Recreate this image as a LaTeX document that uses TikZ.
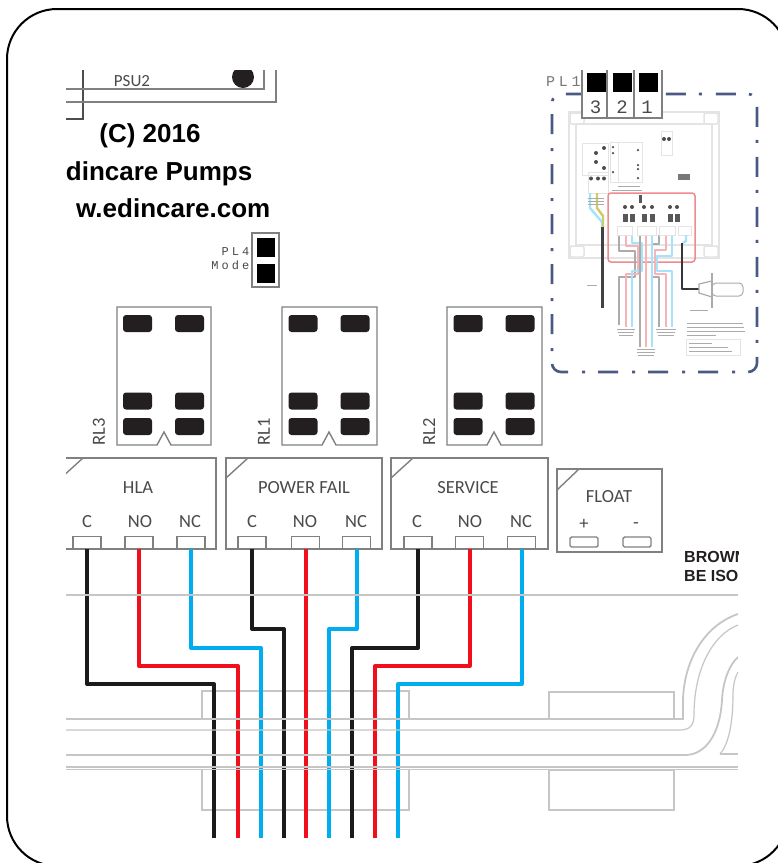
\documentclass[tikz,border=0pt]{standalone}
\usepackage{fontspec}
\setmainfont{Liberation Sans}
\newfontfamily\labelfont{Carlito}
\newfontfamily\plfont[LetterSpace=25]{Liberation Mono}
\newfontfamily\digitfont{Liberation Mono}
\definecolor{padblack}{HTML}{231F20}
\definecolor{wireblack}{HTML}{1C1A1B}
\definecolor{wirered}{HTML}{F0101C}
\definecolor{wireblue}{HTML}{00AEEF}
\definecolor{boxgray}{HTML}{808080}
\definecolor{railgray}{HTML}{C6C6C6}
\definecolor{textgray}{HTML}{4A4A4A}
\definecolor{dashblue}{HTML}{4A5A85}
\definecolor{palegray}{HTML}{E4E4E4}
\definecolor{minired}{HTML}{F08A8E}
\definecolor{minipink}{HTML}{F7B4B8}
\definecolor{miniblue}{HTML}{A6E2FA}
\definecolor{minigray}{HTML}{ABABAB}
\tikzset{
  pad/.style={rectangle, rounded corners=3, fill=padblack, inner sep=0, minimum width=29, minimum height=17},
  term/.style={rectangle, draw=boxgray, line width=1.4, fill=white, inner sep=0, minimum width=28, minimum height=12},
  box/.style={draw=boxgray, line width=1.4},
  rail/.style={draw=railgray, line width=1.8},
  thinrail/.style={draw=railgray, line width=1.2},
  wire/.style={line width=4, line join=round},
  lbl/.style={inner sep=0, text=textgray, font=\labelfont\fontsize{18.5}{18.5}\selectfont},
  boldtxt/.style={inner sep=0, text=black, font=\bfseries\fontsize{26}{26}\selectfont},
  warn/.style={inner sep=0, text=padblack, anchor=west, font=\bfseries\fontsize{16}{16}\selectfont},
  mini/.style={line width=2.4, line join=round},
  smudge/.style={draw=minigray, line width=0.9},
  minidot/.style={circle, fill=padblack!80, inner sep=0, minimum size=4},
  miniblock/.style={rectangle, fill=padblack!75, inner sep=0, minimum width=5, minimum height=8}
}
\begin{document}
\begin{tikzpicture}[x=1pt,y=-1pt]
\path[use as bounding box, clip] (0,0) rectangle (778,863);
\fill[white] (0,0) rectangle (778,863);
\begin{scope}
\clip (66,70) rectangle (738,838);
% top of the board
\draw[box, padblack!80] (83,70) -- (83,119) -- (66,119);
\draw[box] (66,89) -- (264,89) -- (264,70);
\draw[box] (66,102) -- (276,102) -- (276,70);
\node[lbl, font=\labelfont\fontsize{17}{17}\selectfont] (psu2) at (132,81){PSU2};
\node[circle, fill=padblack, inner sep=0, minimum size=22] (psuhole) at (243,77){};
\node[boldtxt] (copy) at (150,136){(C) 2016};
\node[boldtxt, anchor=east] (maker) at (252.5,174){dincare Pumps};
\node[boldtxt, anchor=east] (site) at (270.5,208){w.edincare.com};
% mode link
\node[rectangle, draw=boxgray, line width=1.4, inner sep=0, minimum width=27, minimum height=54] (pl4) at (265.5,260){};
\node[rectangle, fill=black, inner sep=0, minimum width=18, minimum height=19] (pl4a) at (266,247.5){};
\node[rectangle, fill=black, inner sep=0, minimum width=18, minimum height=19] (pl4b) at (266,273.5){};
\node[inner sep=0, text=textgray, anchor=east, font=\plfont\fontsize{12}{12}\selectfont] (pl4t) at (249.5,252){PL4};
\node[inner sep=0, text=textgray, anchor=east, font=\plfont\fontsize{12}{12}\selectfont] (pl4m) at (249.5,265){Mode};
% relays
\draw[box] (117,307) -- (211,307) -- (211,445) -- (171,445) -- (164,432) -- (157,445) -- (117,445) -- cycle;
\node[pad] (pid0) at (137.5,323.5){};
\node[pad] (pid1) at (189.5,323.5){};
\node[pad] (pid2) at (137.5,401){};
\node[pad] (pid3) at (189.5,401){};
\node[pad] (pid4) at (137.5,426.5){};
\node[pad] (pid5) at (189.5,426.5){};
\node[lbl, rotate=90, anchor=west] (rl3) at (99,445.5){RL3};
\draw[box] (282,307) -- (377,307) -- (377,445) -- (336,445) -- (329,432) -- (322,445) -- (282,445) -- cycle;
\node[pad] (pid6) at (303,323.5){};
\node[pad] (pid7) at (355,323.5){};
\node[pad] (pid8) at (303,401){};
\node[pad] (pid9) at (355,401){};
\node[pad] (pid10) at (303,426.5){};
\node[pad] (pid11) at (355,426.5){};
\node[lbl, rotate=90, anchor=west] (rl1) at (264,445.5){RL1};
\draw[box] (447,307) -- (542,307) -- (542,445) -- (501,445) -- (494,432) -- (487,445) -- (447,445) -- cycle;
\node[pad] (pid12) at (468,323.5){};
\node[pad] (pid13) at (520,323.5){};
\node[pad] (pid14) at (468,401){};
\node[pad] (pid15) at (520,401){};
\node[pad] (pid16) at (468,426.5){};
\node[pad] (pid17) at (520,426.5){};
\node[lbl, rotate=90, anchor=west] (rl2) at (429,445.5){RL2};
% terminal blocks
\draw[box] (61,458) rectangle (216,549);
\draw[box] (61,478) -- (83,458);
\node[lbl] (hla) at (138,488){HLA};
\node[lbl] (lc1) at (87,522){C};
\node[lbl] (lno1) at (140,522){NO};
\node[lbl] (lnc1) at (190,522){NC};
\draw[box] (226,458) rectangle (382,549);
\draw[box] (226,478) -- (248,458);
\node[lbl] (pwr) at (304,488){POWER FAIL};
\node[lbl] (lc2) at (252,522){C};
\node[lbl] (lno2) at (305,522){NO};
\node[lbl] (lnc2) at (356,522){NC};
\draw[box] (391,458) rectangle (548,549);
\draw[box] (391,478) -- (413,458);
\node[lbl] (svc) at (468,488){SERVICE};
\node[lbl] (lc3) at (417,522){C};
\node[lbl] (lno3) at (470,522){NO};
\node[lbl] (lnc3) at (521,522){NC};
\draw[box] (557,469) rectangle (662,552);
\draw[box] (557,490) -- (579,469);
\node[lbl] (flt) at (609,497){FLOAT};
\node[lbl] (lplus) at (584,524){+};
\node[lbl] (lminus) at (636,526){-};
\node[term] (tid0) at (87,542.5){};
\node[term] (tid1) at (139,542.5){};
\node[term] (tid2) at (191,542.5){};
\node[term] (tid3) at (252,542.5){};
\node[term] (tid4) at (305.5,542.5){};
\node[term] (tid5) at (356.5,542.5){};
\node[term] (tid6) at (418,542.5){};
\node[term] (tid7) at (469.5,542.5){};
\node[term] (tid8) at (521.5,542.5){};
\node[term, rounded corners=1.5, minimum height=10] (tid9) at (584,542){};
\node[term, rounded corners=1.5, minimum height=10] (tid10) at (637,542){};
\node[warn] (warn1) at (684,557){BROWN};
\node[warn] (warn2) at (684,576){BE ISO};
% boxes beside the rails
\draw[thinrail] (202,719) -- (202,691) -- (409,691) -- (409,719);
\draw[thinrail] (202,770) -- (202,810) -- (409,810) -- (409,770);
\draw[thinrail] (549,719) -- (549,692) -- (674,692) -- (674,719);
\draw[thinrail] (549,770) rectangle (674,810);
% wires
\coordinate (jid0) at (214,684);
\coordinate (jid1) at (238,666);
\coordinate (jid2) at (261,648);
\coordinate (jid3) at (284,629);
\coordinate (jid5) at (329,629);
\coordinate (jid6) at (352,648);
\coordinate (jid7) at (375,666);
\coordinate (jid8) at (398,684);
\coordinate (eid0) at (214,838);
\coordinate (eid1) at (238,838);
\coordinate (eid2) at (261,838);
\coordinate (eid3) at (284,838);
\coordinate (eid4) at (305.5,838);
\coordinate (eid5) at (329,838);
\coordinate (eid6) at (352,838);
\coordinate (eid7) at (375,838);
\coordinate (eid8) at (398,838);
\draw[wire, wireblack](tid0.south) |- (jid0) -- (eid0);
\draw[wire, wirered](tid1.south) |- (jid1) -- (eid1);
\draw[wire, wireblue](tid2.south) |- (jid2) -- (eid2);
\draw[wire, wireblack](tid3.south) |- (jid3) -- (eid3);
\draw[wire, wirered](tid4.south) -- (eid4);
\draw[wire, wireblue](tid5.south) |- (jid5) -- (eid5);
\draw[wire, wireblack](tid6.south) |- (jid6) -- (eid6);
\draw[wire, wirered](tid7.south) |- (jid7) -- (eid7);
\draw[wire, wireblue](tid8.south) |- (jid8) -- (eid8);
% rails
\draw[rail] (66,595) -- (738,595);
\draw[rail] (66,719) -- (676,719) -- (683,719) -- (683,700) .. controls (684,660) and (705,625) .. (738,614);
\draw[thinrail] (66,730) -- (680,730) .. controls (690,730) and (694,725) .. (694,715) .. controls (694,670) and (712,635) .. (738,625);
\draw[rail] (66,755) -- (685,755) .. controls (705,755) and (720,735) .. (722,700) .. controls (723,680) and (730,664) .. (738,657);
\draw[thinrail] (720,754) -- (738,754);
\draw[thinrail] (720,754) .. controls (728,745) and (733,725) .. (733,695) .. controls (733,685) and (735,677) .. (738,672);
\draw[rail] (66,767) -- (738,767);
\draw[thinrail] (66,769.5) -- (738,769.5);
\end{scope}
\begin{scope}
\clip (540,70) rectangle (778,400);
% enclosure of the small view
\draw[palegray, line width=1.5] (569,112) rectangle (719,258);
\draw[palegray, line width=1.2] (576,124) rectangle (712,245);
\draw[palegray, line width=1.5, rounded corners=2] (570,113) rectangle (584,124);
\draw[palegray, line width=1.5, rounded corners=2] (704,113) rectangle (718,124);
\draw[palegray, line width=1.5, rounded corners=2] (570,246) rectangle (584,257);
\draw[palegray, line width=1.5, rounded corners=2] (704,246) rectangle (718,257);
\draw[palegray, line width=1] (582,143) rectangle (608,175);
\draw[palegray, line width=1] (610,142) rectangle (642,182);
\draw[palegray, line width=1] (618,142) -- (618,182);
\draw[palegray, line width=1] (588,172) rectangle (608,193);
\draw[palegray, line width=1] (661,131) rectangle (672,155);
\node[minidot] (dot0) at (596,153){};
\node[minidot] (dot1) at (596,162){};
\node[minidot] (dot2) at (604,148){};
\node[minidot] (dot3) at (604,168){};
\node[minidot, minimum size=2.5] (dot4) at (613,147){};
\node[minidot, minimum size=2.5] (dot5) at (613,153){};
\node[minidot, minimum size=2.5] (dot6) at (613,172){};
\node[minidot, minimum size=2.5] (dot7) at (638,150){};
\node[minidot, minimum size=2.5] (dot8) at (638,165){};
\node[minidot, minimum size=2.5] (dot9) at (638,169){};
\node[minidot, minimum size=2.5] (dot10) at (638,178){};
\node[minidot] (dot11) at (591,178.5){};
\node[minidot] (dot12) at (598,178.5){};
\node[minidot] (dot13) at (604,178.5){};
\node[minidot] (dot14) at (664,139){};
\node[minidot] (dot15) at (669,139){};
\node[rectangle, fill=minigray!70!black, inner sep=0, minimum width=12, minimum height=6] (chip) at (684,177){};
% red outline and what it holds
\draw[minired, line width=1.5, rounded corners=3] (608,193) rectangle (695,262);
\node[minidot] (dot16) at (625,207){};
\node[minidot] (dot17) at (632,207){};
\node[minidot] (dot18) at (644,207){};
\node[minidot] (dot19) at (652,207){};
\node[minidot] (dot20) at (670,207){};
\node[minidot] (dot21) at (677,207){};
\node[miniblock] (blk0) at (625,218){};
\node[miniblock] (blk1) at (632,218){};
\node[miniblock] (blk2) at (644,218){};
\node[miniblock] (blk3) at (652,218){};
\node[miniblock] (blk4) at (670,218){};
\node[miniblock] (blk5) at (677,218){};
\node[miniblock, minimum width=3, minimum height=8] (blk6) at (640,199){};
\draw[minigray, mini] (619,235) -- (619,251) -- (635,251) -- (635,277) -- (619,277) -- (619,325);
\draw[minipink, mini] (626,235) -- (626,246) -- (638,246) -- (638,274) -- (626,274) -- (626,327);
\draw[miniblue, mini] (632,235) -- (632,243) -- (642,243) -- (642,271) -- (632,271) -- (632,327);
\draw[minigray, mini] (659,235) -- (659,244) -- (652,244) -- (652,277) -- (659,277) -- (659,327);
\draw[minipink, mini] (666,235) -- (666,250) -- (655,250) -- (655,274) -- (666,274) -- (666,327);
\draw[miniblue, mini] (672,235) -- (672,256) -- (657,256) -- (657,271) -- (672,271) -- (672,327);
\draw[minigray, mini] (640,235) -- (640,347);
\draw[minipink, mini] (646,235) -- (646,347);
\draw[miniblue, mini] (652,235) -- (652,347);
\draw[palegray, line width=1, fill=white] (617,226) rectangle (632,235);
\draw[palegray, line width=1, fill=white] (637,226) rectangle (656,235);
\draw[palegray, line width=1, fill=white] (659,226) rectangle (675,235);
\draw[palegray, line width=1, fill=white] (678,226) rectangle (691,235);
% cable, float and small print
\draw[miniblue, mini] (590,193) -- (590,208) -- (602,222) -- (602,228);
\draw[minigray!60!yellow, mini] (597,193) -- (597,208) -- (603,216) -- (603,228);
\draw[smudge] (588,198) -- (604,198);
\draw[smudge] (588,201) -- (604,201);
\draw[smudge] (588,204) -- (604,204);
\draw[padblack!85, line width=3] (602,227) -- (602,308);
\draw[padblack!90, line width=2.5, line join=round] (682,243) -- (682,289) -- (699,289);
\draw[miniblue, mini] (686,235) -- (686,241) -- (683,243);
\draw[minigray, line width=1.2] (699,284) -- (712,281) -- (712,297) -- (699,293) -- cycle;
\draw[minigray, line width=1.8] (712,273) -- (712,308);
\draw[minigray, line width=1, rounded corners=4] (712,283) rectangle (743,296);
\draw[smudge] (587,285) -- (597,285);
\draw[smudge] (617,329) -- (635,329);
\draw[smudge] (618,332) -- (634,332);
\draw[smudge] (619,335) -- (633,335);
\draw[smudge] (656,329) -- (676,329);
\draw[smudge] (657,332) -- (675,332);
\draw[smudge] (658,335) -- (674,335);
\draw[smudge] (637,349) -- (655,349);
\draw[smudge] (637,352) -- (655,352);
\draw[smudge] (638,355) -- (654,355);
\draw[smudge] (690,310) -- (708,310);
\draw[smudge] (687,323) -- (743,323);
\draw[smudge] (687,327) -- (744,327);
\draw[smudge] (687,331) -- (745,331);
\draw[smudge] (687,335) -- (716,335);
\draw[palegray, line width=1] (686,339) rectangle (740,355);
\draw[smudge] (689,343) -- (712,343);
\draw[smudge] (689,347) -- (728,347);
\draw[smudge] (689,351) -- (732,351);
\draw[smudge] (618,186) -- (640,186);
\draw[smudge] (612,190) -- (642,190);
% dashed outline
\draw[dashblue, line width=2.6, rounded corners=9, dash pattern=on 20 off 13 on 3 off 14] (568,372) -- (552,372) -- (552,94) -- (757,94) -- (757,372) -- (568,372);
% PL1 block
\node[inner sep=0, text=textgray!75, anchor=west, font=\plfont\fontsize{15}{15}\selectfont] (pl1) at (546,82){PL1};
\node[rectangle, draw=boxgray, line width=1.6, fill=white, inner sep=0, minimum width=80, minimum height=58] (pl1box) at (622,89){};
\draw[boxgray, line width=1.6] (pl1box.north west) ++(26,0) -- ++(0,58);
\draw[boxgray, line width=1.6] (pl1box.north west) ++(53,0) -- ++(0,58);
\node[rectangle, fill=black, inner sep=0, minimum width=19, minimum height=19] (pl1a) at (596.5,82.5){};
\node[rectangle, fill=black, inner sep=0, minimum width=19, minimum height=19] (pl1b) at (622.5,82.5){};
\node[rectangle, fill=black, inner sep=0, minimum width=19, minimum height=19] (pl1c) at (648,82.5){};
\node[inner sep=0, text=textgray, font=\digitfont\fontsize{19}{19}\selectfont] (num3) at (595.5,107){3};
\node[inner sep=0, text=textgray, font=\digitfont\fontsize{19}{19}\selectfont] (num2) at (622,107){2};
\node[inner sep=0, text=textgray, font=\digitfont\fontsize{19}{19}\selectfont] (num1) at (647,107){1};
\end{scope}
% outer frame
\draw[black, line width=2, rounded corners=50] (7,9) rectangle (788,866);
\end{tikzpicture}
\end{document}
